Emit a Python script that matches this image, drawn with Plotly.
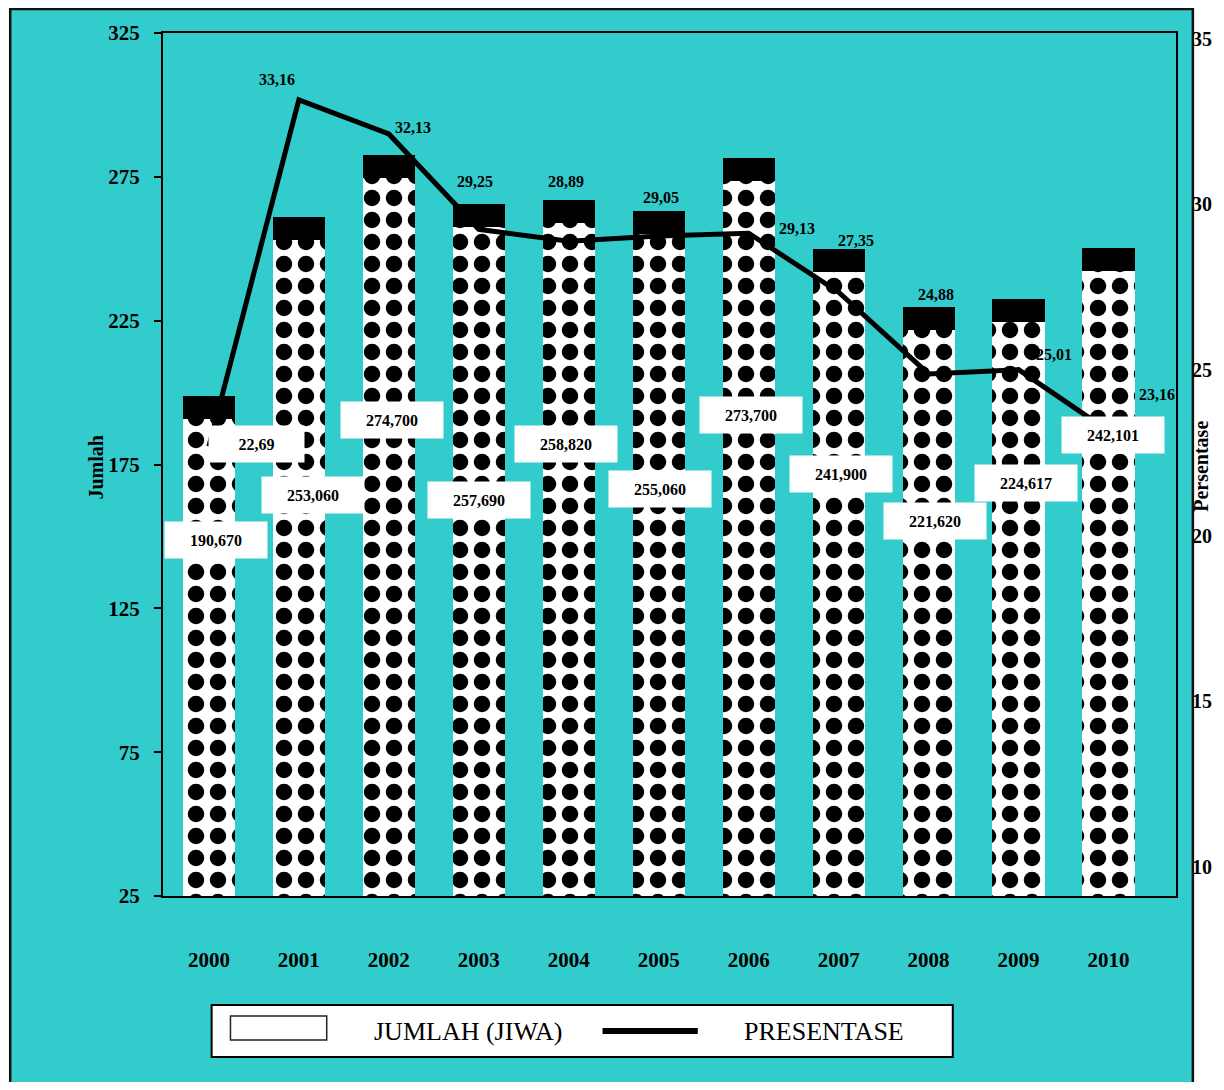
import plotly.graph_objects as go

# ---------------- data ----------------
YEARS = [2000, 2001, 2002, 2003, 2004, 2005, 2006, 2007, 2008, 2009, 2010]
JUMLAH_JIWA = [190670, 253060, 274700, 257690, 258820, 255060, 273700, 241900, 221620, 224617, 242101]
PRESENTASE = [22.69, 33.16, 32.13, 29.25, 28.89, 29.05, 29.13, 27.35, 24.88, 25.01, 23.16]
LEFT_TICKS = [25, 75, 125, 175, 225, 275, 325]
RIGHT_TICKS = [10, 15, 20, 25, 30, 35]

# ---------------- style / layout constants ----------------
TEAL = "#33CCCC"
FONT = "Liberation Serif"
OFF = 8                       # page margin of the html body
W, H = 1224 - OFF, 1090 - 2 * OFF
L, R, T = 163 - OFF, 1224 - 1184, 33 - OFF
B = (H + OFF) - 896
PW, PH = W - L - R, H - T - B
CAP = 8  # black cap on top of every bar (left-axis units)

# label offsets (pixels) relative to bar tops / line points
BAR_LABEL_SHIFT = [(7, -121), (14, -255), (3, -242), (0, -273), (-3, -221), (1, -255),
                   (2, -234), (2, -202), (6, -191), (7, -161), (4, -164)]
PCT_LABEL_SHIFT = [(48, 2), (-22, 20), (24, 6), (-4, 48), (-3, 60), (2, 38),
                   (48, 5), (17, 52), (7, 79), (35, 15), (48, 36)]


def pxx(x):
    """screen pixel x -> paper fraction"""
    return (x - OFF - L) / PW


def pxy(y):
    """screen pixel y -> paper fraction"""
    return (H - B - (y - OFF)) / PH


bar_vals = [v / 1000 for v in JUMLAH_JIWA]
bar_text = [f"{v:,}" for v in JUMLAH_JIWA]
pct_text = [f"{p:.2f}".replace(".", ",") for p in PRESENTASE]

fig = go.Figure()
fig.add_trace(go.Bar(
    x=YEARS, y=bar_vals, width=0.58, yaxis="y", showlegend=False,
    marker=dict(color="white", line=dict(width=0),
                pattern=dict(shape=".", fgcolor="black", bgcolor="white",
                             size=22, solidity=0.44, fillmode="replace")),
    hoverinfo="skip",
))
fig.add_trace(go.Bar(
    x=YEARS, y=[CAP] * len(YEARS), width=0.58, yaxis="y", showlegend=False,
    marker=dict(color="black", line=dict(width=0)), hoverinfo="skip",
))
fig.add_trace(go.Scatter(
    x=YEARS, y=PRESENTASE, yaxis="y2", mode="lines", showlegend=False,
    line=dict(color="black", width=5), hoverinfo="skip",
))

annotations = []
for yr, v, t, (dx, dy) in zip(YEARS, bar_vals, bar_text, BAR_LABEL_SHIFT):
    annotations.append(dict(
        x=yr, y=v, xref="x", yref="y", xshift=dx, yshift=dy, text=f"<b>{t}</b>",
        showarrow=False, bgcolor="white", width=100, height=34, borderpad=1,
        xanchor="center", yanchor="middle",
        font=dict(family=FONT, size=16, color="black"),
    ))
for i, (yr, p, t, (dx, dy)) in enumerate(zip(YEARS, PRESENTASE, pct_text, PCT_LABEL_SHIFT)):
    a = dict(x=yr, y=p, xref="x", yref="y2", xshift=dx, yshift=dy, text=f"<b>{t}</b>",
             showarrow=False, xanchor="center", yanchor="middle",
             font=dict(family=FONT, size=16, color="black"))
    if i == 0:
        a.update(bgcolor="white", width=93, height=34, borderpad=1)
    annotations.append(a)

# axis titles
annotations.append(dict(x=pxx(95), y=pxy(468), xref="paper", yref="paper", text="<b>Jumlah</b>",
                        textangle=-90, showarrow=False, xanchor="center", yanchor="middle",
                        font=dict(family=FONT, size=20, color="black")))
annotations.append(dict(x=pxx(1209), y=pxy(466), xref="paper", yref="paper", text="<b>Persentase</b>",
                        textangle=-90, showarrow=False, xanchor="center", yanchor="middle",
                        font=dict(family=FONT, size=20, color="black")))
# legend texts
annotations.append(dict(x=pxx(470), y=pxy(1031), xref="paper", yref="paper", text="JUMLAH (JIWA)",
                        showarrow=False, xanchor="center", yanchor="middle",
                        font=dict(family=FONT, size=26, color="black")))
annotations.append(dict(x=pxx(829), y=pxy(1031), xref="paper", yref="paper", text="PRESENTASE",
                        showarrow=False, xanchor="center", yanchor="middle",
                        font=dict(family=FONT, size=26, color="black")))

shapes = [
    # teal canvas with border
    dict(type="rect", xref="paper", yref="paper", x0=pxx(9), x1=pxx(1201), y0=pxy(1100), y1=pxy(9),
         fillcolor=TEAL, line=dict(color="#111111", width=2.5), layer="below"),
    # legend box
    dict(type="rect", xref="paper", yref="paper", x0=pxx(212), x1=pxx(959), y0=pxy(1057), y1=pxy(1005),
         fillcolor="white", line=dict(color="black", width=2)),
    dict(type="rect", xref="paper", yref="paper", x0=pxx(231), x1=pxx(328), y0=pxy(1040), y1=pxy(1016),
         fillcolor="white", line=dict(color="#222222", width=1.5)),
    dict(type="line", xref="paper", yref="paper", x0=pxx(606), x1=pxx(702), y0=pxy(1031), y1=pxy(1031),
         line=dict(color="black", width=6)),
]

fig.update_layout(
    width=W, height=H, margin=dict(l=L, r=R, t=T, b=B, pad=0),
    paper_bgcolor="white", plot_bgcolor=TEAL,
    barmode="stack", bargap=0.4,
    font=dict(family=FONT, color="black"),
    xaxis=dict(range=[1999.49, 2010.75], tickvals=YEARS, ticktext=[f"<b>{y}</b>" for y in YEARS],
               ticks="", showgrid=False, zeroline=False, showline=True, linecolor="black",
               linewidth=2, mirror=True, ticklabelstandoff=44,
               tickfont=dict(family=FONT, size=21, color="black")),
    yaxis=dict(range=[25, 325], tickvals=LEFT_TICKS, ticktext=[f"<b>{v}</b>" for v in LEFT_TICKS],
               ticks="outside", ticklen=7, tickwidth=2, tickcolor="black",
               showgrid=False, zeroline=False, showline=True, linecolor="black", linewidth=2,
               mirror=True, ticklabelstandoff=10,
               tickfont=dict(family=FONT, size=21, color="black")),
    yaxis2=dict(range=[9.11, 35.18], overlaying="y", side="right", tickvals=RIGHT_TICKS,
                ticktext=[f"<b>{v}</b>" for v in RIGHT_TICKS], ticks="", showgrid=False,
                zeroline=False, showline=False, ticklabelstandoff=15,
                tickfont=dict(family=FONT, size=20, color="black")),
    annotations=annotations,
    shapes=shapes,
    showlegend=False,
)

fig.write_html("out.html")
